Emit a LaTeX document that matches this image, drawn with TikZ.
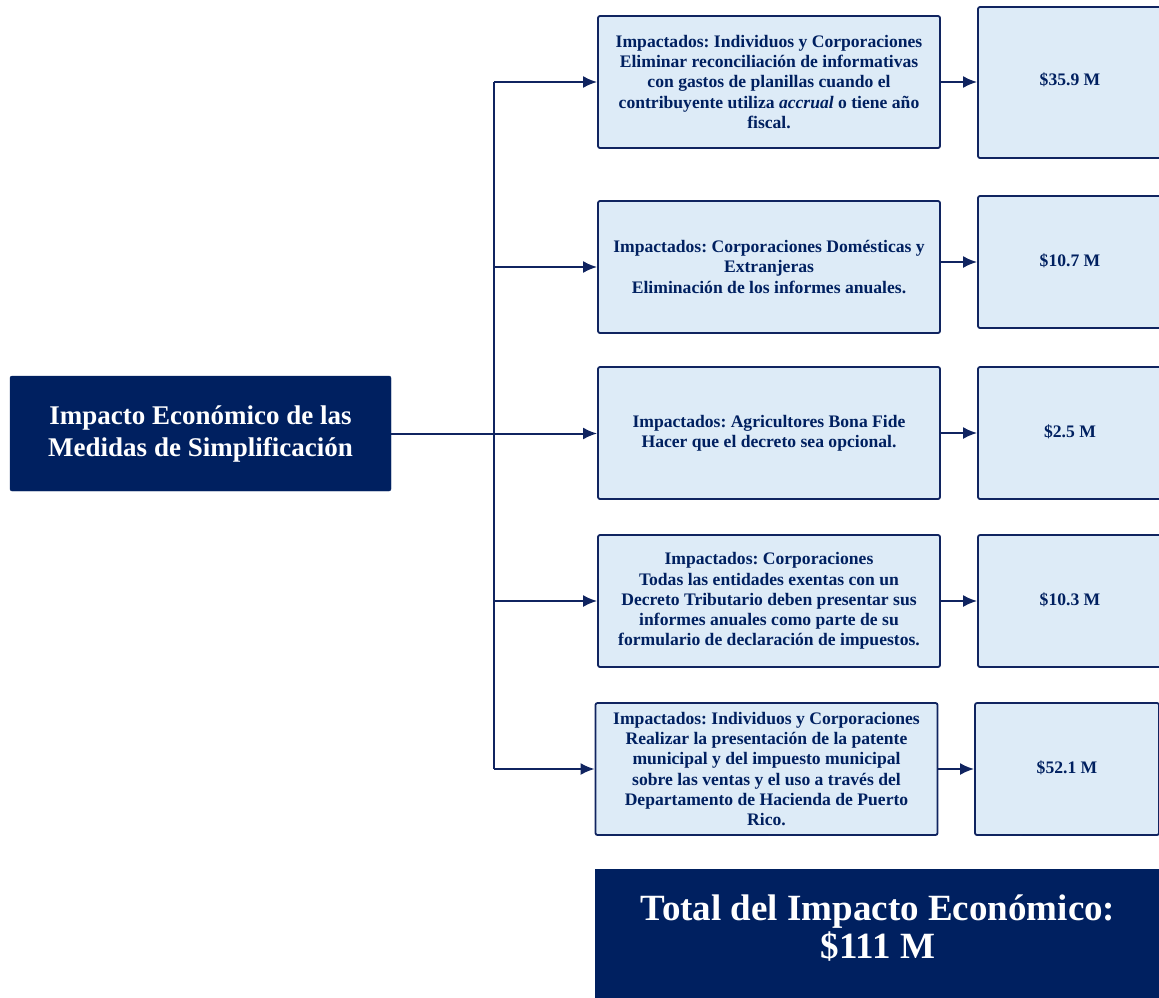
\documentclass[tikz,border=0pt]{standalone}
\usepackage{fontspec}
\setmainfont{Liberation Serif}
\usetikzlibrary{arrows.meta}
\definecolor{navy}{RGB}{0,32,96}
\definecolor{navyline}{RGB}{16,36,96}
\definecolor{lightbox}{RGB}{221,235,247}
\newcommand{\upby}[2]{\raisebox{#1}[\height][\depth]{#2}}
\tikzset{
  x=1pt,y=-1pt,
  mainbox/.style={fill=navy,draw=navy,rounded corners=2pt,minimum width=381pt,minimum height=115pt,text=white,align=center,font=\fontsize{27}{32}\selectfont\bfseries,inner sep=0pt},
  midbox/.style={fill=lightbox,draw=navyline,line width=1.8pt,rounded corners=2pt,minimum width=342pt,minimum height=132pt,text=navy,align=center,font=\fontsize{17.6}{20.2}\selectfont\bfseries,inner sep=0pt},
  valbox/.style={midbox,minimum width=184pt},
  totbox/.style={fill=navy,draw=navy,minimum width=566pt,minimum height=130pt,text=white,align=center,font=\fontsize{37}{38}\selectfont\bfseries,inner sep=0pt},
  conn/.style={draw=navyline,line width=2pt},
  arr/.style={conn,-{Latex[length=14pt,width=12pt]}}
}
\begin{document}
\frenchspacing
\begin{tikzpicture}
\useasboundingbox (0,0) rectangle (1159,997);
\node[mainbox] (main) at (200.5,433.5) {Impacto Económico de las\\Medidas de Simplificación};
\node[midbox] (m1) at (769,82) {Impactados: Individuos y Corporaciones\\Eliminar reconciliación de informativas\\con gastos de planillas cuando el\\contribuyente utiliza \textit{accrual} o tiene año\\fiscal.};
\node[midbox] (m2) at (769,267) {Impactados: Corporaciones Domésticas y\\Extranjeras\\Eliminación de los informes anuales.};
\node[midbox] (m3) at (769,433) {Impactados: Agricultores Bona Fide\\Hacer que el decreto sea opcional.};
\node[midbox] (m4) at (769,601) {Impactados: Corporaciones\\Todas las entidades exentas con un\\Decreto Tributario deben presentar sus\\informes anuales como parte de su\\formulario de declaración de impuestos.};
\node[midbox] (m5) at (766.5,769) {Impactados: Individuos y Corporaciones\\Realizar la presentación de la patente\\municipal y del impuesto municipal\\sobre las ventas y el uso a través del\\Departamento de Hacienda de Puerto\\Rico.};
\node[valbox,minimum height=151pt] (r1) at (1070,82.5) {\upby{3pt}{\$35.9 M}};
\node[valbox] (r2) at (1070,262) {\upby{1.5pt}{\$10.7 M}};
\node[valbox] (r3) at (1070,433) {\upby{1pt}{\$2.5 M}};
\node[valbox] (r4) at (1070,601) {\upby{1pt}{\$10.3 M}};
\node[valbox] (r5) at (1067,769) {\upby{1pt}{\$52.1 M}};
\node[totbox] (tot) at (878,934) {\upby{6pt}{\parbox{560pt}{\centering Total del Impacto Económico:\\\$111 M}}};
\coordinate (t1) at (494,82);
\coordinate (t2) at (494,267);
\coordinate (t3) at (494,433.5);
\coordinate (t4) at (494,601);
\coordinate (t5) at (494,769);
\draw[conn] (t1) -- (t5);
\draw[conn] (main.east) -- (t3);
\draw[arr] (t1) -- (m1.west);
\draw[arr] (t2) -- (m2.west);
\draw[arr] (t3) -- (m3.west |- t3);
\draw[arr] (t4) -- (m4.west);
\draw[arr] (t5) -- (m5.west);
\draw[arr] (m1.east) -- (r1.west |- m1.east);
\draw[arr] (m2.east |- r2.west) -- (r2.west);
\draw[arr] (m3.east) -- (r3.west |- m3.east);
\draw[arr] (m4.east) -- (r4.west |- m4.east);
\draw[arr] (m5.east) -- (r5.west |- m5.east);
\end{tikzpicture}
\end{document}
